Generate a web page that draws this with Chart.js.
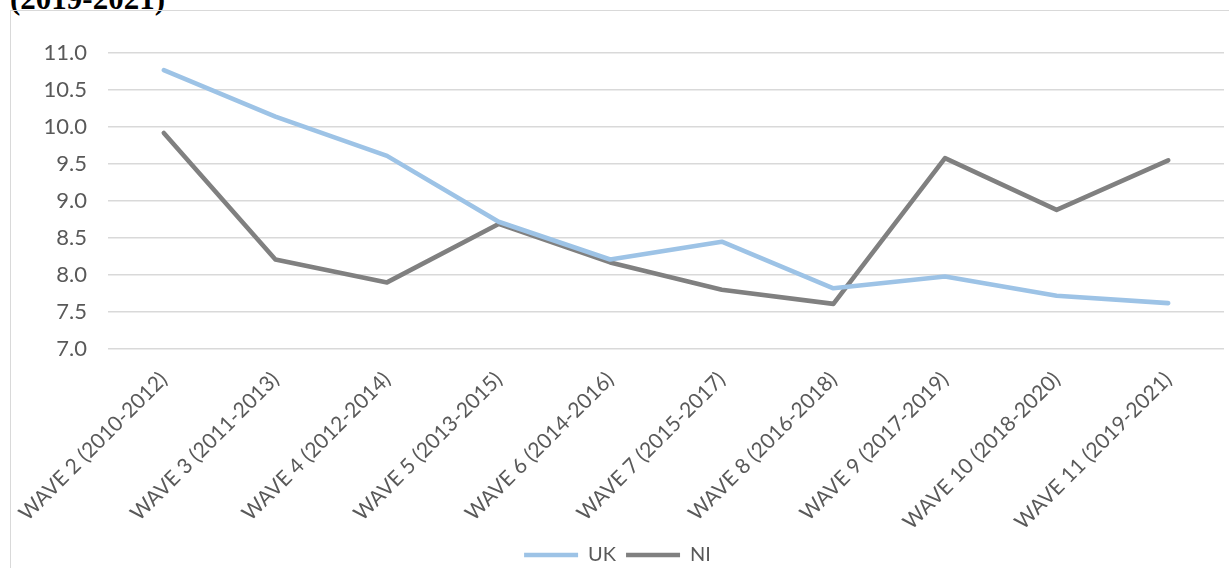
<!DOCTYPE html>
<html lang="en">
<head>
  <meta charset="UTF-8">
  <title>UK vs NI by wave</title>
  <script src="https://cdn.jsdelivr.net/npm/chart.js@4.4.1/dist/chart.umd.min.js"></script>
  <style>
    html, body {
      margin: 0;
      padding: 0;
      background: #fff;
      overflow: hidden;
    }
    body {
      width: 1229px;
      height: 568px;
      position: relative;
    }
    #caption {
      position: absolute;
      left: 10px;
      top: -16px;
      font-family: "Liberation Serif", serif;
      font-weight: bold;
      font-size: 31px;
      line-height: 30px;
      color: #000;
      white-space: nowrap;
    }
    #frame {
      position: absolute;
      left: 10px;
      top: 10px;
      width: 1300px;
      height: 600px;
      border-left: 1px solid #d9d9d9;
      border-top: 1px solid #d9d9d9;
    }
    #wrap {
      position: absolute;
      left: 0;
      top: 0;
      width: 1218px;
      height: 568px;
    }
  </style>
</head>
<body>
  <div id="caption">(2019-2021)</div>
  <div id="frame">
    <div id="wrap"><canvas id="chart"></canvas></div>
  </div>

  <script>
    const waves = [
      'WAVE 2 (2010-2012)', 'WAVE 3 (2011-2013)', 'WAVE 4 (2012-2014)',
      'WAVE 5 (2013-2015)', 'WAVE 6 (2014-2016)', 'WAVE 7 (2015-2017)',
      'WAVE 8 (2016-2018)', 'WAVE 9 (2017-2019)', 'WAVE 10 (2018-2020)',
      'WAVE 11 (2019-2021)'
    ];
    const ukValues = [10.77, 10.14, 9.61, 8.72, 8.21, 8.45, 7.82, 7.98, 7.72, 7.62];
    const niValues = [9.92, 8.21, 7.90, 8.69, 8.17, 7.80, 7.61, 9.58, 8.88, 9.55];
    const yMin = 7, yMax = 11, yStep = 0.5;

    const fontFamily = 'Lato, "Open Sans", sans-serif';
    const textGrey = '#595959';

    function lineSet(label, data, color) {
      return {
        label, data,
        borderColor: color,
        backgroundColor: color,
        borderWidth: 4.6,
        borderCapStyle: 'round',
        borderJoinStyle: 'round',
        pointRadius: 0,
        pointHoverRadius: 0,
        tension: 0
      };
    }

    new Chart(document.getElementById('chart'), {
      type: 'line',
      data: {
        labels: waves,
        datasets: [
          lineSet('UK', ukValues, '#9dc3e6'),
          lineSet('NI', niValues, '#808080')
        ]
      },
      options: {
        responsive: true,
        maintainAspectRatio: false,
        animation: false,
        layout: { padding: { top: 42, right: 5, left: 0, bottom: 4 } },
        plugins: {
          tooltip: { enabled: false },
          legend: {
            position: 'bottom',
            labels: {
              usePointStyle: true,
              pointStyle: 'line',
              pointStyleWidth: 54,
              color: textGrey,
              font: { family: fontFamily, size: 20 },
              padding: 10
            }
          }
        },
        scales: {
          x: {
            offset: true,
            grid: { display: false, drawTicks: false },
            border: { display: false },
            ticks: {
              color: textGrey, font: { family: fontFamily, size: 21 },
              minRotation: 45, maxRotation: 45,
              autoSkip: false, padding: 18
            },
            afterFit: s => {
              s.height = 186;
              // rotated labels may spill left past the plot, like the original
              s.paddingLeft = 0;
              s.paddingRight = 0;
            }
          },
          y: {
            min: yMin, max: yMax,
            grid: { color: '#d9d9d9', lineWidth: 1.5, drawTicks: false },
            border: { display: false },
            ticks: {
              stepSize: yStep,
              color: textGrey, font: { family: fontFamily, size: 22 },
              padding: 21,
              callback: v => v.toFixed(1)
            },
            afterFit: s => { s.width = 97; }
          }
        }
      }
    });
  </script>
</body>
</html>
